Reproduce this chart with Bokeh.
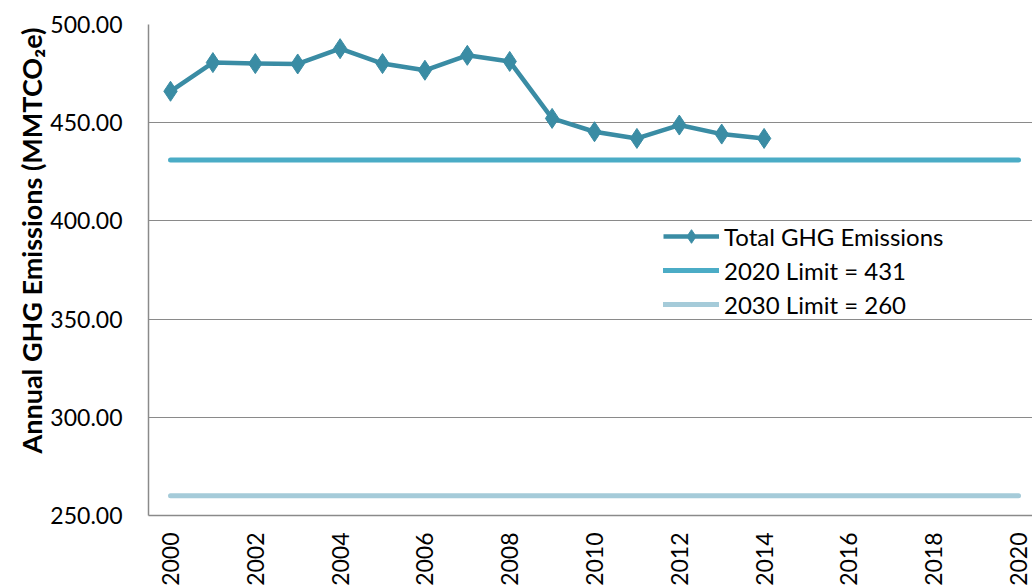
from bokeh.plotting import figure
from bokeh.models import Range1d, FixedTicker, PrintfTickFormatter, Legend, LegendItem, ColumnDataSource, Title
from bokeh.embed import file_html
from bokeh.resources import INLINE
import math

# ---- data ----
years = [2000, 2001, 2002, 2003, 2004, 2005, 2006, 2007, 2008, 2009, 2010, 2011, 2012, 2013, 2014]
emissions = [466.0, 480.6, 480.1, 479.9, 487.7, 480.1, 476.7, 484.3, 481.2, 452.2, 445.4, 442.0, 448.8, 444.2, 442.0]
limit_years = [2000, 2020]
limit_2020 = [431, 431]
limit_2030 = [260, 260]
x_ticks = [2000, 2002, 2004, 2006, 2008, 2010, 2012, 2014, 2016, 2018, 2020]
y_ticks = [250, 300, 350, 400, 450, 500]

series_labels = ["Total GHG Emissions", "2020 Limit = 431", "2030 Limit = 260"]
y_title = "Annual GHG Emissions (MMTCO\u2082e)"

FONT = "Lato"

p = figure(width=1032, height=588, output_backend="svg", toolbar_location=None,
           x_range=Range1d(1999.481, 2020.33), y_range=Range1d(250, 500),
           min_border_left=148, min_border_right=0, min_border_top=24, min_border_bottom=71)

p.outline_line_color = None
p.background_fill_color = "white"

# grid
p.xgrid.grid_line_color = None
p.ygrid.grid_line_color = "#8a8a8a"
p.ygrid.grid_line_width = 1
p.ygrid.ticker = FixedTicker(ticks=y_ticks)

# axes
p.xaxis.ticker = FixedTicker(ticks=x_ticks)
p.xaxis.major_label_orientation = math.pi / 2
p.xaxis.major_tick_line_color = None
p.xaxis.minor_tick_line_color = None
p.xaxis.major_tick_out = 0
p.xaxis.axis_line_color = "#8a8a8a"
p.xaxis.axis_line_width = 1.5
p.xaxis.major_label_text_font = FONT
p.xaxis.major_label_text_font_size = "23px"
p.xaxis.major_label_text_color = "#000000"
p.xaxis.major_label_standoff = 17

p.yaxis.ticker = FixedTicker(ticks=y_ticks)
p.yaxis.formatter = PrintfTickFormatter(format="%.2f")
p.yaxis.major_tick_line_color = None
p.yaxis.minor_tick_line_color = None
p.yaxis.major_tick_out = 0
p.yaxis.axis_line_color = "#8a8a8a"
p.yaxis.axis_line_width = 1.5
p.yaxis.major_label_text_font = FONT
p.yaxis.major_label_text_font_size = "23px"
p.yaxis.major_label_text_color = "#000000"
p.yaxis.major_label_standoff = 26

ytitle = Title(text=y_title, align="left", offset=62, text_font=FONT, text_font_size="27px",
               text_font_style="bold", text_color="#000000", standoff=0)
p.add_layout(ytitle, "left")

# glyphs
src = ColumnDataSource(dict(x=years, y=emissions))
r2030 = p.line(limit_years, limit_2030, line_color="#A5CBD9", line_width=5, line_cap="round")
r2020 = p.line(limit_years, limit_2020, line_color="#4BACC6", line_width=5, line_cap="round")
rl = p.line("x", "y", source=src, line_color="#3A8CA4", line_width=4.5, line_join="round")
rm = p.scatter("x", "y", source=src, marker="diamond", size=20, fill_color="#3A8CA4", line_color="#3A8CA4")

legend = Legend(items=[
    LegendItem(label=series_labels[0], renderers=[rl, rm]),
    LegendItem(label=series_labels[1], renderers=[r2020]),
    LegendItem(label=series_labels[2], renderers=[r2030]),
], location=(515, 194))
legend.padding = 0
legend.margin = 0
legend.border_line_color = None
legend.background_fill_alpha = 0
legend.glyph_width = 56
legend.glyph_height = 34
legend.label_height = 20
legend.label_standoff = 5
legend.spacing = 0
legend.label_text_font = FONT
legend.label_text_font_size = "24px"
legend.label_text_color = "#000000"
p.add_layout(legend, "center")

open("out.html", "w").write(file_html(p, INLINE))
